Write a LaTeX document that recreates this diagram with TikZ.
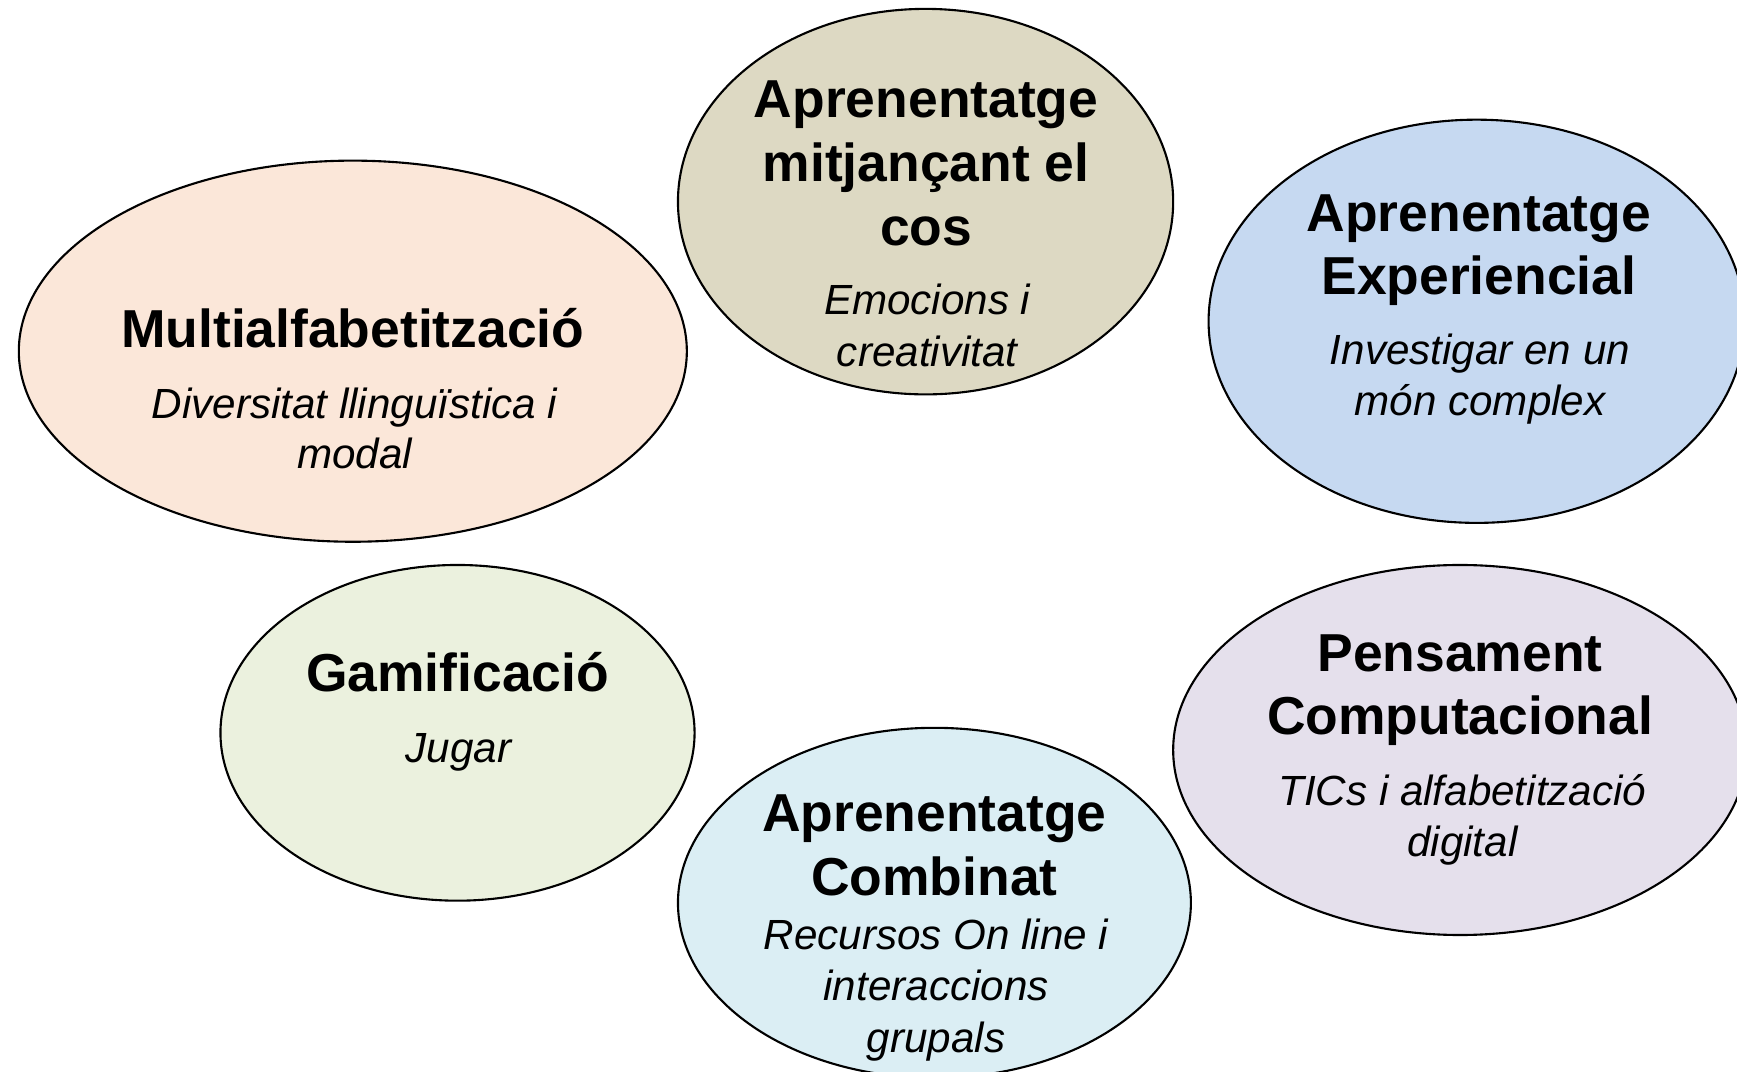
\documentclass[tikz,border=0pt]{standalone}
\usepackage{fontspec}
\setmainfont{Liberation Sans}
\usetikzlibrary{shapes.geometric}
\definecolor{cMulti}{HTML}{FBE7D9}
\definecolor{cCos}{HTML}{DDD9C3}
\definecolor{cExp}{HTML}{C6D9F1}
\definecolor{cGam}{HTML}{EBF1DE}
\definecolor{cPens}{HTML}{E5E0EC}
\definecolor{cComb}{HTML}{DBEEF4}
\begin{document}
\begin{tikzpicture}[x=0.011078cm,y=-0.011078cm,
  bub/.style={ellipse, draw=black, line width=0.6pt, inner sep=0pt},
  ttl/.style={anchor=base, font=\fontsize{15.2}{18}\selectfont\bfseries, inner sep=0pt},
  sub/.style={anchor=base, font=\fontsize{12}{14.5}\selectfont\itshape, inner sep=0pt}]
\useasboundingbox (0,0) rectangle (1568,967);
\clip (0,0) rectangle (1568,967);
% ellipses
\node[bub, fill=cMulti, minimum width=6.680cm, minimum height=3.811cm] (eMulti) at (318.5,317) {};
\node[bub, fill=cCos, minimum width=4.952cm, minimum height=3.855cm] (eCos) at (835.5,182) {};
\node[bub, fill=cExp, minimum width=5.362cm, minimum height=4.032cm] (eExp) at (1333,290) {};
\node[bub, fill=cGam, minimum width=4.741cm, minimum height=3.357cm] (eGam) at (413,661.5) {};
\node[bub, fill=cPens, minimum width=5.738cm, minimum height=3.700cm] (ePens) at (1318,677) {};
\node[bub, fill=cComb, minimum width=5.129cm, minimum height=3.501cm] (eComb) at (843.5,815) {};
% Multialfabetitzacio
\node[ttl] (m1) at (318.5,314) {Multialfabetització};
\node[sub] (m2) at (320,378) {Diversitat llinguïstica i};
\node[sub] (m3) at (320,423) {modal};
% cos
\node[ttl] (c1) at (836,106) {Aprenentatge};
\node[ttl] (c2) at (836,164) {mitjançant el};
\node[ttl] (c3) at (836,222) {cos};
\node[sub] (c4) at (837,284) {Emocions i};
\node[sub] (c5) at (837,331) {creativitat};
% Experiencial
\node[ttl] (x1) at (1335,209) {Aprenentatge};
\node[ttl] (x2) at (1335,266) {Experiencial};
\node[sub] (x3) at (1336,329) {Investigar en un};
\node[sub] (x4) at (1336,375) {món complex};
% Gamificacio
\node[ttl] (g1) at (413,624) {Gamificació};
\node[sub] (g2) at (414,688) {Jugar};
% Pensament
\node[ttl] (p1) at (1318,606) {Pensament};
\node[ttl] (p2) at (1318,663) {Computacional};
\node[sub] (p3) at (1320,727) {TICs i alfabetització};
\node[sub] (p4) at (1320,773) {digital};
% Combinat
\node[ttl] (b1) at (843.5,751) {Aprenentatge};
\node[ttl] (b2) at (843.5,808) {Combinat};
\node[sub] (b3) at (845,857) {Recursos On line i};
\node[sub] (b4) at (845,903) {interaccions};
\node[sub] (b5) at (845,950) {grupals};
\end{tikzpicture}
\end{document}
